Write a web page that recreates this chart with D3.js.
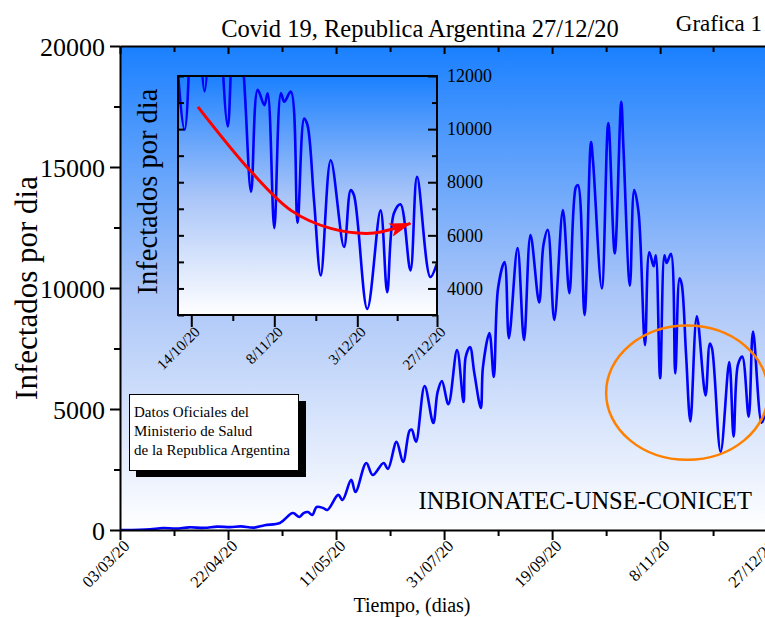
<!DOCTYPE html>
<html>
<head>
<meta charset="utf-8">
<script src="https://cdn.jsdelivr.net/npm/d3@7"></script>
<style>
  body { margin: 0; background: #fff; }
  svg text { font-family: "Liberation Serif", "Times New Roman", serif; }
</style>
</head>
<body>
<script>
// casos diarios (picos y valles)
const fechas = [
  "2020-03-03","2020-03-12","2020-03-17","2020-03-23","2020-03-29","2020-04-04","2020-04-11","2020-04-17",
  "2020-04-23","2020-04-28","2020-05-04","2020-05-09","2020-05-16","2020-05-22","2020-05-25","2020-05-27",
  "2020-05-29","2020-05-31","2020-06-02","2020-06-05","2020-06-07","2020-06-12","2020-06-14","2020-06-18",
  "2020-06-20","2020-06-25","2020-06-28","2020-07-03","2020-07-05","2020-07-09","2020-07-12","2020-07-15",
  "2020-07-16","2020-07-18","2020-07-22","2020-07-26","2020-07-28","2020-07-30","2020-08-02","2020-08-06",
  "2020-08-09","2020-08-10","2020-08-12","2020-08-14","2020-08-17","2020-08-18","2020-08-21","2020-08-23",
  "2020-08-25","2020-08-28","2020-08-30","2020-09-03","2020-09-06","2020-09-09","2020-09-13","2020-09-15",
  "2020-09-17","2020-09-20","2020-09-24","2020-09-27","2020-09-30","2020-10-01","2020-10-04","2020-10-07",
  "2020-10-08","2020-10-12","2020-10-15","2020-10-18","2020-10-21","2020-10-22","2020-10-25","2020-10-27",
  "2020-10-29","2020-11-01","2020-11-03","2020-11-05","2020-11-06","2020-11-08","2020-11-10","2020-11-11",
  "2020-11-13","2020-11-15","2020-11-17","2020-11-18","2020-11-20","2020-11-22","2020-11-25","2020-11-29",
  "2020-12-01","2020-12-02","2020-12-06","2020-12-10","2020-12-12","2020-12-14","2020-12-16","2020-12-19",
  "2020-12-21","2020-12-25","2020-12-27"
];
const infectados = [
  0, 10, 30, 80, 60, 110, 90, 140,
  120, 150, 100, 200, 290, 700, 540, 700,
  740, 620, 950, 910, 830, 1450, 1240, 2070,
  1570, 2770, 2270, 2770, 2520, 3640, 2810, 4100,
  4150, 3650, 5950, 4420, 5700, 6150, 5200, 7440,
  5290, 7150, 7560, 6490, 5040, 6740, 8140, 6320,
  10000, 11070, 7930, 11650, 7850, 12190, 9400, 11780,
  12400, 8680, 13220, 9790, 14170, 14250, 8880, 16030,
  15160, 9980, 16820, 11430, 17690, 15830, 10100, 14050,
  13140, 7640, 11480, 10900, 11350, 6270, 11350, 11030,
  11410, 6470, 10400, 10150, 7260, 4490, 8830, 5560,
  7700, 7510, 3230, 6940, 3860, 6820, 7170, 4680,
  8200, 4430, 4950
];

// eje x principal
const ticksFechas = ["2020-03-03","2020-04-22","2020-06-11","2020-07-31","2020-09-19","2020-11-08","2020-12-27"];
const ticksEtiquetas = ["03/03/20","22/04/20","11/05/20","31/07/20","19/09/20","8/11/20","27/12/20"];
const ticksY = [0, 5000, 10000, 15000, 20000];
const ticksYmenor = [2500, 7500, 12500, 17500];

// recuadro (inset)
const insetRango = ["2020-10-10", "2020-12-27"];
const insetTicksFechas = ["2020-10-14","2020-11-08","2020-12-03","2020-12-27"];
const insetTicksEtiquetas = ["14/10/20","8/11/20","3/12/20","27/12/20"];
const insetTicksY = [4000, 6000, 8000, 10000, 12000];
const insetTicksYmenor = [3000, 5000, 7000, 9000, 11000];

// flecha roja de tendencia (en coordenadas del recuadro)
const flechaFechas = ["2020-10-16","2020-11-01","2020-11-13","2020-11-25","2020-12-07","2020-12-13","2020-12-19"];
const flechaValores = [10840, 8400, 6940, 6260, 6075, 6220, 6450];

// elipse naranja (limites en fechas y valores)
const elipseFechas = ["2020-10-14", "2020-12-28"];
const elipseValores = [2900, 8450];

const leyenda = ["Datos Oficiales del", "Ministerio de Salud", "de la Republica Argentina"];

const parse = d3.timeParse("%Y-%m-%d");
const datos = fechas.map((f, i) => ({ fecha: parse(f), valor: infectados[i] }));

const width = 765;
const height = 617;
const plot = { left: 120, right: 766, top: 46, bottom: 530 };
const caja = { left: 178, right: 437, top: 76, bottom: 315 };
const serif = "'Liberation Serif', 'Times New Roman', serif";
const entero = d3.format("d");

const svg = d3.select("body").append("svg")
  .attr("width", width)
  .attr("height", height);

const defs = svg.append("defs");
const grad = defs.append("linearGradient")
  .attr("id", "fondo")
  .attr("x1", 0).attr("y1", 0).attr("x2", 0).attr("y2", 1);
grad.append("stop").attr("offset", "0%").attr("stop-color", "#1a80ff");
grad.append("stop").attr("offset", "50%").attr("stop-color", "#a8c4f8");
grad.append("stop").attr("offset", "100%").attr("stop-color", "#ffffff");

defs.append("clipPath").attr("id", "clipPlot")
  .append("rect")
  .attr("x", plot.left).attr("y", plot.top)
  .attr("width", plot.right - plot.left).attr("height", plot.bottom - plot.top);
defs.append("clipPath").attr("id", "clipCaja")
  .append("rect")
  .attr("x", caja.left).attr("y", caja.top)
  .attr("width", caja.right - caja.left).attr("height", caja.bottom - caja.top);

defs.append("marker")
  .attr("id", "punta")
  .attr("markerUnits", "userSpaceOnUse")
  .attr("viewBox", "0 0 22 14")
  .attr("markerWidth", 22).attr("markerHeight", 14)
  .attr("refX", 21).attr("refY", 7)
  .attr("orient", "auto")
  .append("path")
  .attr("d", "M0,0 L22,7 L0,14 L5,7 Z")
  .attr("fill", "#ff0000");

// escalas
const x = d3.scaleTime()
  .domain([parse(fechas[0]), parse(fechas[fechas.length - 1])])
  .range([plot.left, plot.right]);
const y = d3.scaleLinear()
  .domain([0, 20000])
  .range([plot.bottom, plot.top]);

const xi = d3.scaleTime()
  .domain(insetRango.map(parse))
  .range([caja.left, caja.right]);
const yi = d3.scaleLinear()
  .domain([3000, 12000])
  .range([caja.bottom, caja.top]);

const mitad = arr => d3.pairs(arr).map(([a, b]) => new Date((+a + +b) / 2));

// fondo
svg.append("rect")
  .attr("x", plot.left).attr("y", plot.top)
  .attr("width", plot.right - plot.left).attr("height", plot.bottom - plot.top)
  .attr("fill", "url(#fondo)");

// curva principal
const linea = d3.line()
  .x(d => x(d.fecha))
  .y(d => y(d.valor))
  .curve(d3.curveCatmullRom.alpha(0.5));

svg.append("path")
  .datum(datos)
  .attr("clip-path", "url(#clipPlot)")
  .attr("fill", "none")
  .attr("stroke", "#0000ff")
  .attr("stroke-width", 2.6)
  .attr("d", linea);

// elipse
const ex = elipseFechas.map(f => x(parse(f)));
const ey = elipseValores.map(v => y(v));
svg.append("ellipse")
  .attr("cx", (ex[0] + ex[1]) / 2)
  .attr("cy", (ey[0] + ey[1]) / 2)
  .attr("rx", (ex[1] - ex[0]) / 2)
  .attr("ry", Math.abs(ey[0] - ey[1]) / 2)
  .attr("fill", "none")
  .attr("stroke", "#ff8000")
  .attr("stroke-width", 2.5);

// ---- recuadro ----
svg.append("rect")
  .attr("x", caja.left).attr("y", caja.top)
  .attr("width", caja.right - caja.left).attr("height", caja.bottom - caja.top)
  .attr("fill", "url(#fondo)");

const datosInset = datos.filter(d => d.fecha >= parse("2020-10-01"));
const lineaInset = d3.line()
  .x(d => xi(d.fecha))
  .y(d => yi(d.valor))
  .curve(d3.curveCatmullRom.alpha(0.5));

svg.append("path")
  .datum(datosInset)
  .attr("clip-path", "url(#clipCaja)")
  .attr("fill", "none")
  .attr("stroke", "#0000ff")
  .attr("stroke-width", 2.6)
  .attr("d", lineaInset);

// flecha roja
const flecha = flechaFechas.map((f, i) => ({ fecha: parse(f), valor: flechaValores[i] }));
svg.append("path")
  .datum(flecha)
  .attr("fill", "none")
  .attr("stroke", "#ff0000")
  .attr("stroke-width", 3)
  .attr("marker-end", "url(#punta)")
  .attr("d", d3.line().x(d => xi(d.fecha)).y(d => yi(d.valor)).curve(d3.curveCatmullRom.alpha(0.5)));

svg.append("rect")
  .attr("x", caja.left).attr("y", caja.top)
  .attr("width", caja.right - caja.left).attr("height", caja.bottom - caja.top)
  .attr("fill", "none")
  .attr("stroke", "black")
  .attr("stroke-width", 2);

// ejes del recuadro
svg.append("g")
  .attr("transform", `translate(${caja.left},0)`)
  .call(d3.axisRight(yi).tickValues(insetTicksY.concat(insetTicksYmenor)).tickSize(6).tickFormat(""))
  .call(g => g.select(".domain").remove())
  .call(g => g.selectAll("line").attr("stroke-width", 2));

svg.append("g")
  .attr("transform", `translate(${caja.right},0)`)
  .call(d3.axisRight(yi).tickValues(insetTicksY).tickSize(-9).tickPadding(10).tickFormat(entero))
  .attr("font-family", serif).attr("font-size", 18)
  .call(g => g.select(".domain").remove())
  .call(g => g.selectAll("line").attr("stroke-width", 2));
svg.append("g")
  .attr("transform", `translate(${caja.right},0)`)
  .call(d3.axisRight(yi).tickValues(insetTicksYmenor).tickSize(-5).tickFormat(""))
  .call(g => g.select(".domain").remove())
  .call(g => g.selectAll("line").attr("stroke-width", 2));

const ejeXi = svg.append("g")
  .attr("transform", `translate(0,${caja.bottom})`)
  .call(d3.axisBottom(xi).tickValues(insetTicksFechas.map(parse))
    .tickFormat((d, i) => insetTicksEtiquetas[i]).tickSize(12).tickSizeOuter(0))
  .attr("font-family", serif).attr("font-size", 15);
ejeXi.select(".domain").remove();
ejeXi.selectAll("line").attr("stroke-width", 2);
ejeXi.selectAll("text")
  .attr("y", 0).attr("dy", 0)
  .attr("text-anchor", "end")
  .attr("transform", "translate(9,18) rotate(-45)");
svg.append("g")
  .attr("transform", `translate(0,${caja.bottom})`)
  .call(d3.axisBottom(xi).tickValues(mitad(insetTicksFechas.map(parse))).tickSize(6).tickFormat(""))
  .call(g => g.select(".domain").remove())
  .call(g => g.selectAll("line").attr("stroke-width", 2));

svg.append("text")
  .attr("transform", `translate(157,${(caja.top + caja.bottom) / 2 - 4}) rotate(-90)`)
  .attr("text-anchor", "middle")
  .attr("font-size", 28.5)
  .text("Infectados por dia");

// leyenda
svg.append("rect")
  .attr("x", 136).attr("y", 401).attr("width", 170).attr("height", 76)
  .attr("fill", "black");
svg.append("rect")
  .attr("x", 129.5).attr("y", 394.5).attr("width", 169).attr("height", 76)
  .attr("fill", "white").attr("stroke", "black").attr("stroke-width", 1);
svg.append("g").selectAll("text")
  .data(leyenda)
  .join("text")
  .attr("x", 134)
  .attr("y", (d, i) => 417 + i * 19)
  .attr("font-size", 15)
  .text(d => d);

svg.append("text")
  .attr("x", 752).attr("y", 509)
  .attr("text-anchor", "end")
  .attr("font-size", 24.5)
  .text("INBIONATEC-UNSE-CONICET");

// ejes principales
const ejeY = svg.append("g")
  .attr("transform", `translate(${plot.left},0)`)
  .call(d3.axisLeft(y).tickValues(ticksY).tickSize(10).tickSizeOuter(0).tickPadding(5).tickFormat(entero))
  .attr("font-family", serif).attr("font-size", 26);
ejeY.selectAll("path, line").attr("stroke-width", 2);
ejeY.selectAll("text").attr("dy", "0.35em");
svg.append("g")
  .attr("transform", `translate(${plot.left},0)`)
  .call(d3.axisLeft(y).tickValues(ticksYmenor).tickSize(6).tickFormat(""))
  .call(g => g.select(".domain").remove())
  .call(g => g.selectAll("line").attr("stroke-width", 2));

const ejeX = svg.append("g")
  .attr("transform", `translate(0,${plot.bottom})`)
  .call(d3.axisBottom(x).tickValues(ticksFechas.map(parse))
    .tickFormat((d, i) => ticksEtiquetas[i]).tickSize(10).tickSizeOuter(0))
  .attr("font-family", serif).attr("font-size", 16.5);
ejeX.selectAll("path, line").attr("stroke-width", 2);
ejeX.selectAll("text")
  .attr("y", 0).attr("dy", 0)
  .attr("text-anchor", "end")
  .attr("transform", "translate(10,17) rotate(-45)");
svg.append("g")
  .attr("transform", `translate(0,${plot.bottom})`)
  .call(d3.axisBottom(x).tickValues(mitad(ticksFechas.map(parse))).tickSize(6).tickFormat(""))
  .call(g => g.select(".domain").remove())
  .call(g => g.selectAll("line").attr("stroke-width", 2));

// borde superior con marcas hacia adentro
svg.append("g")
  .attr("transform", `translate(0,${plot.top})`)
  .call(d3.axisBottom(x).tickValues(ticksFechas.map(parse)).tickSize(8).tickSizeOuter(0).tickFormat(""))
  .call(g => g.selectAll("path, line").attr("stroke-width", 2));
svg.append("g")
  .attr("transform", `translate(0,${plot.top})`)
  .call(d3.axisBottom(x).tickValues(mitad(ticksFechas.map(parse))).tickSize(6).tickFormat(""))
  .call(g => g.select(".domain").remove())
  .call(g => g.selectAll("line").attr("stroke-width", 2));

// textos
svg.append("text")
  .attr("x", 420).attr("y", 37)
  .attr("text-anchor", "middle")
  .attr("font-size", 24.5)
  .text("Covid 19, Republica Argentina 27/12/20");

svg.append("text")
  .attr("x", 762).attr("y", 31)
  .attr("text-anchor", "end")
  .attr("font-size", 23)
  .text("Grafica 1");

svg.append("text")
  .attr("transform", `translate(37,${(plot.top + plot.bottom) / 2}) rotate(-90)`)
  .attr("text-anchor", "middle")
  .attr("font-size", 31)
  .text("Infectados por dia");

svg.append("text")
  .attr("x", 412).attr("y", 612)
  .attr("text-anchor", "middle")
  .attr("font-size", 20)
  .text("Tiempo, (dias)");
</script>
</body>
</html>
